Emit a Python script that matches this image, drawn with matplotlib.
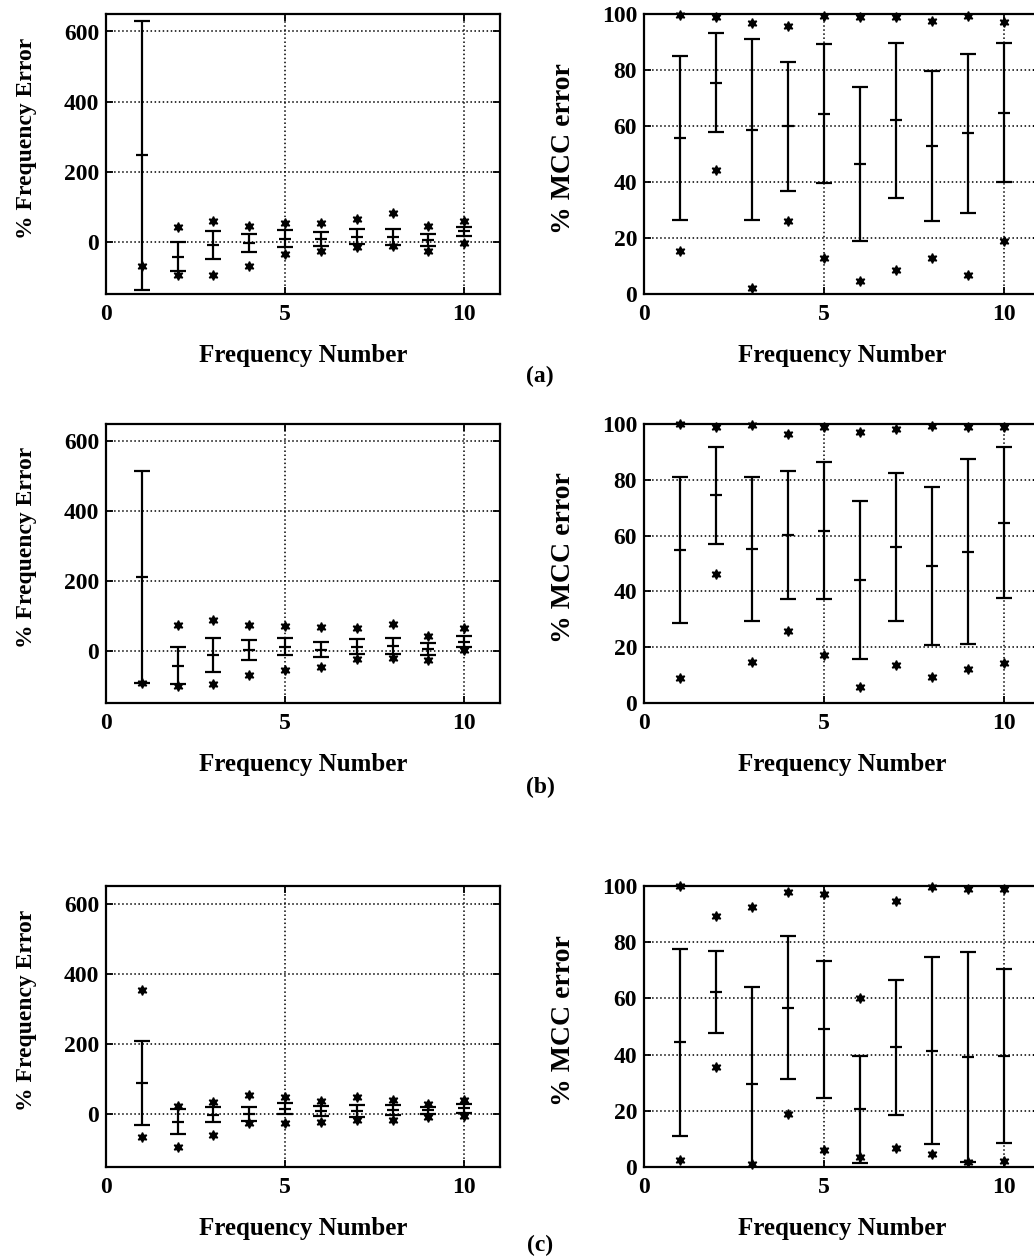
import matplotlib
matplotlib.use("Agg")
import matplotlib.pyplot as plt
import numpy as np

plt.rcParams['font.family'] = ['Liberation Serif', 'DejaVu Serif']

freq_num = np.arange(1, 11)

# (a) frequency error: mean, std, min, max
a_freq_mean = [246, -43, -11, -4, 8, 6, 14, 13, 5, 29]
a_freq_std = [385, 42, 40, 25, 24, 20, 22, 22, 17, 12]
a_freq_min = [-71, -97, -97, -71, -37, -26, -16, -14, -26, -5]
a_freq_max = [np.nan, 41, 58, 44, 52, 52, 65, 82, 44, 58]
# (a) MCC error
a_mcc_mean = [55.8, 75.4, 58.7, 59.9, 64.4, 46.4, 62.0, 52.8, 57.4, 64.8]
a_mcc_std = [29.3, 17.7, 32.2, 23.1, 24.8, 27.4, 27.8, 26.8, 28.4, 24.7]
a_mcc_min = [15.5, 44.3, 2.0, 26.0, 12.7, 4.6, 8.6, 12.7, 6.7, 19.0]
a_mcc_max = [99.5, 99.0, 96.7, 95.7, 99.3, 99.0, 98.8, 97.6, 99.4, 97.0]

# (b) frequency error
b_freq_mean = [210, -43, -13, 1, 12, 3, 12, 13, 5, 26]
b_freq_std = [304, 53, 48, 29, 25, 21, 22, 23, 16, 15]
b_freq_min = [-94, -100, -95, -69, -54, -47, -24, -21, -28, 1]
b_freq_max = [np.nan, 74, 87, 74, 72, 67, 65, 76, 41, 65]
# (b) MCC error
b_mcc_mean = [54.9, 74.4, 55.2, 60.2, 61.8, 44.0, 55.9, 49.1, 54.3, 64.6]
b_mcc_std = [26.2, 17.3, 25.9, 22.8, 24.7, 28.3, 26.6, 28.4, 33.1, 27.0]
b_mcc_min = [8.8, 46.3, 14.8, 25.8, 17.3, 5.8, 13.6, 9.4, 12.1, 14.3]
b_mcc_max = [100.0, 98.8, 99.5, 96.3, 99.0, 97.0, 98.3, 99.3, 99.0, 98.8]

# (c) frequency error
c_freq_mean = [90, -21, -1, 1, 16, 9, 9, 12, 12, 17]
c_freq_std = [120, 36, 21, 20, 16, 15, 17, 15, 10, 12]
c_freq_min = [-66, -92, -60, -24, -26, -21, -16, -16, -9, -5]
c_freq_max = [355, 24, 36, 55, 49, 38, 50, 41, 28, 41]
# (c) MCC error
c_mcc_mean = [44.4, 62.2, 29.7, 56.7, 49.0, 20.5, 42.6, 41.4, 39.2, 39.6]
c_mcc_std = [33.2, 14.5, 34.4, 25.5, 24.4, 19.0, 24.0, 33.2, 37.4, 31.0]
c_mcc_min = [2.4, 35.6, 1.2, 19.0, 5.9, 3.6, 6.9, 4.5, 1.8, 2.1]
c_mcc_max = [100.0, 89.4, 92.4, 98.0, 97.1, 60.2, 94.7, 99.5, 98.9, 98.8]

panels = [
    ("(a)", (a_freq_mean, a_freq_std, a_freq_min, a_freq_max),
     (a_mcc_mean, a_mcc_std, a_mcc_min, a_mcc_max)),
    ("(b)", (b_freq_mean, b_freq_std, b_freq_min, b_freq_max),
     (b_mcc_mean, b_mcc_std, b_mcc_min, b_mcc_max)),
    ("(c)", (c_freq_mean, c_freq_std, c_freq_min, c_freq_max),
     (c_mcc_mean, c_mcc_std, c_mcc_min, c_mcc_max)),
]

W, H = 1034, 1257
fig = plt.figure(figsize=(W / 100, H / 100), dpi=100)

rows = [(14, 294), (424, 703), (886, 1167)]
label_y = [376, 787, 1245]
cols = [(106, 500), (644, 1040)]


def px_axes(x0, x1, y0, y1):
    return fig.add_axes([x0 / W, 1 - y1 / H, (x1 - x0) / W, (y1 - y0) / H])


def draw(ax, stats):
    mean, std, mn, mx = stats
    ax.errorbar(freq_num, mean, yerr=std, fmt='none', ecolor='k',
                elinewidth=1.6, capsize=6, capthick=1.6, zorder=3)
    ax.plot(freq_num, mean, ls='none', marker='_', ms=9, mew=1.6, color='k', zorder=3)
    for v in (mn, mx):
        ax.plot(freq_num, v, ls='none', marker=(6, 1, 0), ms=7, color='k',
                clip_on=False, zorder=4)
    ax.grid(True, color='k', linestyle=':', linewidth=1.1)
    ax.tick_params(direction='in', top=True, right=True, length=5, width=1.3,
                   labelsize=17)
    ax.tick_params(axis='y', pad=5)
    ax.tick_params(axis='x', pad=7)
    for lab in ax.get_xticklabels() + ax.get_yticklabels():
        lab.set_fontweight('bold')
    for s in ax.spines.values():
        s.set_linewidth(1.6)
    ax.set_xlim(0, 11)
    ax.set_xticks([0, 5, 10])
    ax.set_xlabel('Frequency Number', fontsize=18, fontweight='bold', labelpad=14)


for (tag, fstats, mstats), (y0, y1), ly in zip(panels, rows, label_y):
    ax1 = px_axes(cols[0][0], cols[0][1], y0, y1)
    ax1.set_ylim(-150, 650)
    ax1.set_yticks([0, 200, 400, 600])
    draw(ax1, fstats)
    ax1.set_ylabel('% Frequency Error', fontsize=17, fontweight='bold')
    ax1.yaxis.set_label_coords(-0.175, 0.557)

    ax2 = px_axes(cols[1][0], cols[1][1], y0, y1)
    ax2.set_ylim(0, 100)
    ax2.set_yticks([0, 20, 40, 60, 80, 100])
    draw(ax2, mstats)
    ax2.set_ylabel('% MCC error', fontsize=20, fontweight='bold')
    ax2.yaxis.set_label_coords(-0.172, 0.52)

    fig.text(540 / W, 1 - ly / H, tag, fontsize=17, fontweight='bold',
             ha='center', va='center')

fig.savefig('out.png', dpi=100)
